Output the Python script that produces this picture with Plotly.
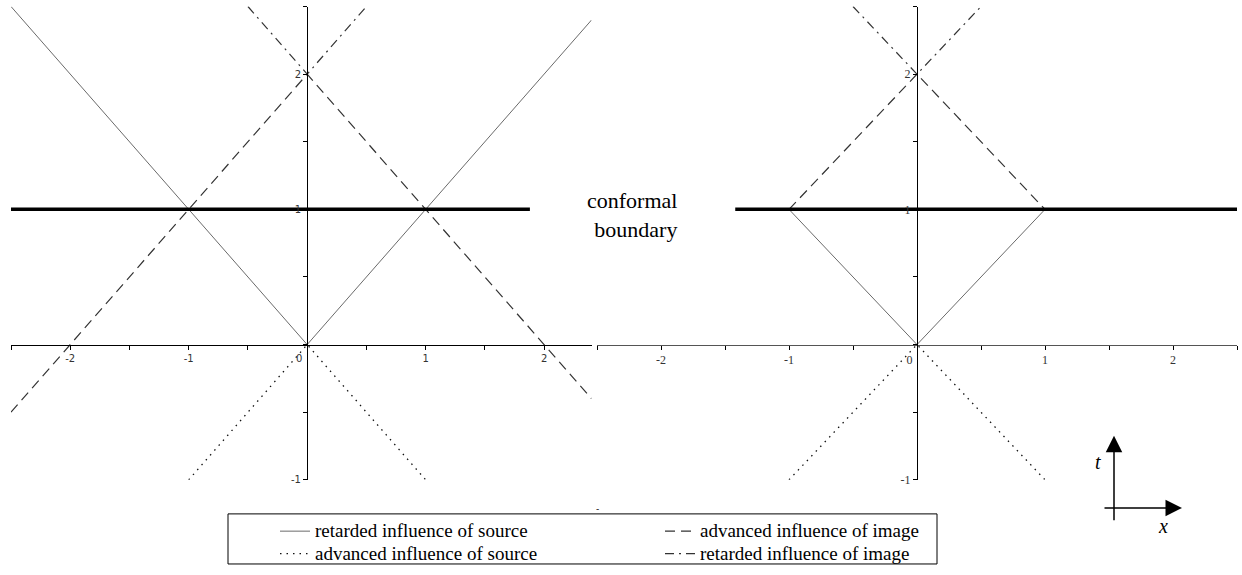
import plotly.graph_objects as go

W, H = 1242, 575          # reference pixel frame
HF = 583                  # figure height (compensates capture scaling)

# ---------------- data ----------------
tick_x = [-2.5, -2, -1.5, -1, -0.5, 0, 0.5, 1, 1.5, 2, 2.5]
tick_x_text = ["", "-2", "", "-1", "", "0\u00a0\u00a0\u00a0\u00a0\u00a0", "", "1", "", "2", ""]
tick_y = [-1, -0.5, 0, 0.5, 1, 1.5, 2, 2.5]
tick_y_text = ["-1", "", "", "", "1", "", "2", ""]

# left panel (unbounded view)
L_ret_src_x = [-2.5, 0, 2.4]
L_ret_src_y = [2.5, 0, 2.4]
L_adv_src_x = [-1, 0, 1]
L_adv_src_y = [-1, 0, -1]
L_adv_img_x = [-2.5, 0, 2.4]
L_adv_img_y = [-0.5, 2, -0.4]
L_ret_img_x = [-0.5, 0, 0.5]
L_ret_img_y = [2.5, 2, 2.5]
L_bound_x = [-2.5, 1.88]
L_bound_y = [1, 1]

# right panel (bounded view)
R_ret_src_x = [-1, 0, 1]
R_ret_src_y = [1, 0, 1]
R_adv_src_x = [-1, 0, 1]
R_adv_src_y = [-1, 0, -1]
R_adv_img_x = [-1, 0, 1]
R_adv_img_y = [1, 2, 1]
R_ret_img_x = [-0.5, 0, 0.5]
R_ret_img_y = [2.5, 2, 2.5]
R_bound_x = [-1.42, 2.5]
R_bound_y = [1, 1]

names = ["retarded influence of source", "advanced influence of source",
         "advanced influence of image", "retarded influence of image"]

# ---------------- styles ----------------
SERIF = "Liberation Serif, Times New Roman, Times, serif"
st_solid = dict(color="#6a6a6a", width=1, dash="solid")
st_dot = dict(color="#111111", width=1.3, dash="1.5px,5px")
st_dash = dict(color="#333333", width=1.2, dash="10px,6px")
st_dashdot = dict(color="#333333", width=1.2, dash="9px,5px,2px,5px")
st_bound = dict(color="black", width=3.5)

LEG_SPAN = '<span style="font-size:19px">{}</span>'

fig = go.Figure()

def add(x, y, line, xa, ya, name=None, legend=None, show=False):
    fig.add_trace(go.Scatter(
        x=x, y=y, mode="lines", line=line,
        name=LEG_SPAN.format(name) if name else "",
        xaxis=xa, yaxis=ya, showlegend=show,
        legend=legend or "legend", hoverinfo="skip"))

# left panel
add(L_ret_src_x, L_ret_src_y, st_solid, "x", "y", names[0], "legend", True)
add(L_adv_src_x, L_adv_src_y, st_dot, "x", "y", names[1], "legend", True)
add(L_adv_img_x, L_adv_img_y, st_dash, "x", "y", names[2], "legend2", True)
add(L_ret_img_x, L_ret_img_y, st_dashdot, "x", "y", names[3], "legend2", True)
add(L_bound_x, L_bound_y, st_bound, "x", "y")

# right panel
add(R_ret_src_x, R_ret_src_y, st_solid, "x2", "y2")
add(R_adv_src_x, R_adv_src_y, st_dot, "x2", "y2")
add(R_adv_img_x, R_adv_img_y, st_dash, "x2", "y2")
add(R_ret_img_x, R_ret_img_y, st_dashdot, "x2", "y2")
add(R_bound_x, R_bound_y, st_bound, "x2", "y2")

# ---------------- axes ----------------
def py(p):  # reference pixel row -> paper fraction
    return (H - p) / H

x_zero_pos = py(344)
y_dom = [py(479), py(6.5)]

common_x = dict(tickmode="array", tickvals=tick_x, ticktext=tick_x_text,
                ticks="outside", ticklen=4, tickwidth=1, tickcolor="black",
                showline=True, linewidth=1, showgrid=False, zeroline=False,
                anchor="free", position=x_zero_pos, fixedrange=True)
common_y = dict(tickmode="array", tickvals=tick_y, ticktext=tick_y_text,
                ticks="outside", ticklen=4, tickwidth=1, tickcolor="black",
                showline=True, linewidth=1, showgrid=False, zeroline=False,
                anchor="free", domain=y_dom, range=[-1, 2.5], fixedrange=True)

font_left = dict(family="DejaVu Sans", size=10, color="#333333")
font_right = dict(family=SERIF, size=12, color="#333333")

fig.update_layout(
    xaxis=dict(**common_x, domain=[11 / W, 591.5 / W], range=[-2.5, 2.4],
               linecolor="black", tickfont=font_left),
    yaxis=dict(**common_y, position=307 / W, linecolor="black", tickfont=font_left),
    xaxis2=dict(**common_x, domain=[597 / W, 1237 / W], range=[-2.5, 2.5],
                linecolor="#555555", tickfont=font_right),
    yaxis2=dict(**common_y, position=917 / W, linecolor="black", tickfont=font_right),
)

# ---------------- legends ----------------
leg_font = dict(family=SERIF, size=15, color="black")
leg_top = py(514)
fig.update_layout(
    legend=dict(x=275 / W, y=leg_top, xanchor="left", yanchor="top",
                orientation="v", font=leg_font, bgcolor="rgba(0,0,0,0)",
                tracegroupgap=0, itemwidth=30, itemclick=False, itemdoubleclick=False),
    legend2=dict(x=660 / W, y=leg_top, xanchor="left", yanchor="top",
                 orientation="v", font=leg_font, bgcolor="rgba(0,0,0,0)",
                 tracegroupgap=0, itemwidth=30, itemclick=False, itemdoubleclick=False),
    shapes=[dict(type="rect", xref="paper", yref="paper",
                 x0=228 / W, x1=937 / W, y0=py(563), y1=py(513),
                 line=dict(color="black", width=1), fillcolor="rgba(0,0,0,0)")],
)

# ---------------- annotations ----------------
ann = [
    dict(text="conformal<br>boundary", x=679 / W, y=py(215), xref="paper", yref="paper",
         xanchor="right", yanchor="middle", align="right", showarrow=False,
         font=dict(family=SERIF, size=22, color="black")),
    # t / x orientation arrows
    dict(text="", x=1114 / W, y=py(435), xref="paper", yref="paper",
         showarrow=True, ax=0, ay=86, arrowhead=2, arrowsize=2.2, arrowwidth=1.5,
         arrowcolor="black", standoff=0),
    dict(text="", x=1182 / W, y=py(507), xref="paper", yref="paper",
         showarrow=True, ax=-79, ay=0, arrowhead=2, arrowsize=2.2, arrowwidth=1.5,
         arrowcolor="black", standoff=0),
    dict(text="<i>t</i>", x=1098 / W, y=py(461), xref="paper", yref="paper",
         xanchor="center", yanchor="middle", showarrow=False,
         font=dict(family=SERIF, size=20, color="black")),
    dict(text="<i>x</i>", x=1163 / W, y=py(525), xref="paper", yref="paper",
         xanchor="center", yanchor="middle", showarrow=False,
         font=dict(family=SERIF, size=20, color="black")),
    dict(text="-", x=597 / W, y=py(508), xref="paper", yref="paper",
         xanchor="center", yanchor="middle", showarrow=False,
         font=dict(family="DejaVu Sans", size=9, color="black")),
]

fig.update_layout(
    width=W, height=HF, margin=dict(l=0, r=0, t=0, b=0),
    paper_bgcolor="white", plot_bgcolor="white",
    annotations=ann, showlegend=True,
)

fig.write_html(
    "out.html",
    config={"displayModeBar": False},
    post_script="document.documentElement.style.margin='0';"
                "document.body.style.margin='0';document.body.style.padding='0';"
                "document.documentElement.style.overflow='hidden';"
                "document.body.style.overflow='hidden';",
)
